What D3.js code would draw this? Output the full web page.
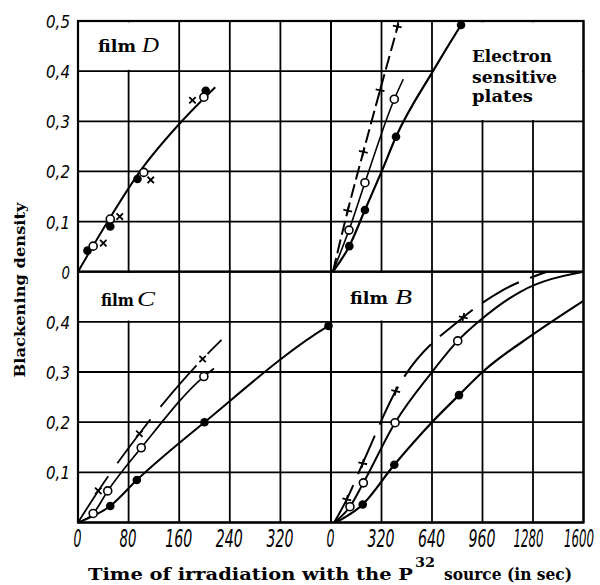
<!DOCTYPE html>
<html><head><meta charset="utf-8">
<script src="https://cdn.jsdelivr.net/npm/d3@7"></script>
<style>body{margin:0;background:#fff;}</style>
</head><body>
<svg id="c" width="600" height="585"></svg>
<script>
// ---------- data ----------
const xTicksLeft = [0, 80, 160, 240, 320];
const xTicksRight = [0, 320, 640, 960, 1280, 1600];
const yTicksTop = [0, 0.1, 0.2, 0.3, 0.4, 0.5];
const yTicksBottom = [0.1, 0.2, 0.3, 0.4];
const gridLeft = [0, 80, 160, 240, 320, 400];
const gridRight = [0, 320, 640, 960, 1280, 1600];
const gridY = [0, 0.1, 0.2, 0.3, 0.4, 0.5];

// film D (top left)
const filmD_filled = [[15, 0.042], [51, 0.090], [94, 0.185], [202, 0.361]];
const filmD_open = [[24, 0.051], [51, 0.105], [104, 0.198], [199, 0.348]];
const filmD_cross = [[40, 0.057], [66, 0.110], [115, 0.183], [181, 0.342]];
const filmD_line = [[0, 0], [47, 0.1], [98, 0.2], [164, 0.3], [217, 0.368]];

// electron sensitive plates (top right)
const esp_filled = [[116, 0.051], [215, 0.123], [412, 0.269], [824, 0.492]];
const esp_filledLine = [[12, 0], [116, 0.051], [215, 0.123], [321, 0.2], [412, 0.269], [648, 0.401], [824, 0.492], [840, 0.5]];
const esp_open = [[114, 0.083], [215, 0.1775], [401, 0.344]];
const esp_openLine = [[12, 0], [114, 0.083], [215, 0.1775], [401, 0.344], [458, 0.384]];
const esp_cross = [[106, 0.1217], [205, 0.239], [311, 0.362], [420, 0.489]];
const esp_crossLine = [[12, 0], [106, 0.1217], [205, 0.239], [311, 0.362], [427, 0.494]];

// film C (bottom left)
const filmC_filled = [[51, 0.033], [93, 0.0847], [200, 0.2], [396, 0.392]];
const filmC_filledLine = [[0, 0], [51, 0.033], [93, 0.0847], [200, 0.2], [396, 0.392], [400, 0.395]];
const filmC_open = [[24, 0.018], [47, 0.063], [100, 0.149], [199, 0.291]];
const filmC_openLine = [[0, 0], [24, 0.018], [47, 0.063], [100, 0.149], [199, 0.291], [215, 0.307]];
const filmC_cross = [[32, 0.063], [97, 0.177], [197, 0.326]];
const filmC_crossLine = [[0, 0], [32, 0.063], [97, 0.177], [197, 0.326], [227, 0.364]];

// film B (bottom right)
const filmB_filled = [[201, 0.036], [401, 0.115], [811, 0.254]];
const filmB_filledLine = [[30, 0], [201, 0.036], [401, 0.115], [640, 0.2], [811, 0.254], [960, 0.3], [1280, 0.375], [1600, 0.442]];
const filmB_open = [[120, 0.0315], [205, 0.079], [406, 0.199], [803, 0.362]];
const filmB_openLine = [[20, 0], [120, 0.0315], [205, 0.079], [406, 0.199], [640, 0.3], [803, 0.362], [945, 0.403], [1200, 0.46], [1600, 0.5]];
const filmB_cross = [[100, 0.046], [201, 0.118], [410, 0.262], [838, 0.409]];
const filmB_crossLine = [[20, 0], [100, 0.046], [201, 0.118], [410, 0.262], [838, 0.409], [1070, 0.46], [1370, 0.5]];

// ---------- layout ----------
const L = 78, R = 583.5, T = 21, M = 271.7, B = 522.5, XM = 331;
const xLeft = d3.scaleLinear().domain([0, 400]).range([L, XM]);
const xRight = d3.scaleLinear().domain([0, 1600]).range([XM, R]);
const yTop = d3.scaleLinear().domain([0, 0.5]).range([M, T]);
const yBot = d3.scaleLinear().domain([0, 0.5]).range([B, M]);

const svg = d3.select("#c");
const g = svg.append("g");

const panels = [
  { id: "D", x: xLeft, y: yTop, gx: gridLeft, box: [0, 160, 0.4, 0.5],
    series: [
      { line: filmD_line, dash: null, w: 2 },
    ],
    marks: [{ pts: filmD_filled, t: "f" }, { pts: filmD_open, t: "o" }, { pts: filmD_cross, t: "x" }] },
  { id: "E", x: xRight, y: yTop, gx: gridRight, box: [640, 1600, 0.3, 0.5],
    series: [
      { line: esp_filledLine, dash: null, w: 2.2 },
      { line: esp_openLine, dash: null, w: 1.6 },
      { line: esp_crossLine, dash: "14,5", w: 2 },
    ],
    marks: [{ pts: esp_filled, t: "f" }, { pts: esp_open, t: "o" }, { pts: esp_cross, t: "+" }] },
  { id: "C", x: xLeft, y: yBot, gx: gridLeft, box: [0, 160, 0.4, 0.5],
    series: [
      { line: filmC_filledLine, dash: null, w: 2 },
      { line: filmC_openLine, dash: null, w: 1.7 },
      { line: filmC_crossLine, dash: "55,16", w: 1.8 },
    ],
    marks: [{ pts: filmC_filled, t: "f" }, { pts: filmC_open, t: "o" }, { pts: filmC_cross, t: "x" }] },
  { id: "B", x: xRight, y: yBot, gx: gridRight, box: [0, 640, 0.4, 0.5],
    series: [
      { line: filmB_filledLine, dash: null, w: 2.2 },
      { line: filmB_openLine, dash: null, w: 2 },
      { line: filmB_crossLine, dash: "42,12", w: 2 },
    ],
    marks: [{ pts: filmB_filled, t: "f" }, { pts: filmB_open, t: "o" }, { pts: filmB_cross, t: "+" }] },
];

const defs = svg.append("defs");

panels.forEach(p => {
  const [x0, x1] = p.x.range(), [y0, y1] = p.y.range();
  g.append("g").selectAll("line.v").data(p.gx).join("line")
    .attr("x1", d => p.x(d)).attr("x2", d => p.x(d))
    .attr("y1", y0).attr("y2", y1)
    .attr("stroke", "#000").attr("stroke-width", 1.8);
  g.append("g").selectAll("line.h").data(gridY).join("line")
    .attr("x1", x0).attr("x2", x1)
    .attr("y1", d => p.y(d)).attr("y2", d => p.y(d))
    .attr("stroke", "#000").attr("stroke-width", 1.8);
  const [bx0, bx1, by0, by1] = p.box;
  g.append("rect")
    .attr("x", p.x(bx0) + 1.3).attr("width", p.x(bx1) - p.x(bx0) - 2.6)
    .attr("y", p.y(by1) + 1.3).attr("height", p.y(by0) - p.y(by1) - 2.6)
    .attr("fill", "#fff");
  defs.append("clipPath").attr("id", "clip" + p.id).append("rect")
    .attr("x", x0).attr("y", y1).attr("width", x1 - x0).attr("height", y0 - y1);
});

// frame
g.append("rect").attr("x", L).attr("y", T).attr("width", R - L).attr("height", B - T)
  .attr("fill", "none").attr("stroke", "#000").attr("stroke-width", 2.2);
g.append("line").attr("x1", XM).attr("x2", XM).attr("y1", T).attr("y2", B).attr("stroke", "#000").attr("stroke-width", 2);
g.append("line").attr("x1", L).attr("x2", R).attr("y1", M).attr("y2", M).attr("stroke", "#000").attr("stroke-width", 2);

// data
panels.forEach(p => {
  const line = d3.line().x(d => p.x(d[0])).y(d => p.y(d[1])).curve(d3.curveMonotoneX);
  const pg = g.append("g").attr("clip-path", "url(#clip" + p.id + ")");
  p.series.forEach(s => {
    pg.append("path").attr("d", line(s.line)).attr("fill", "none")
      .attr("stroke", "#000").attr("stroke-width", s.w)
      .attr("stroke-dasharray", s.dash);
  });
  const mg = g.append("g");
  p.marks.forEach(m => {
    if (m.t === "f") {
      mg.selectAll(null).data(m.pts).join("circle")
        .attr("cx", d => p.x(d[0])).attr("cy", d => p.y(d[1])).attr("r", 4.3).attr("fill", "#000");
    } else if (m.t === "o") {
      mg.selectAll(null).data(m.pts).join("circle")
        .attr("cx", d => p.x(d[0])).attr("cy", d => p.y(d[1])).attr("r", 4)
        .attr("fill", "#fff").attr("stroke", "#000").attr("stroke-width", 1.6);
    } else if (m.t === "x") {
      mg.selectAll(null).data(m.pts).join("path")
        .attr("transform", d => `translate(${p.x(d[0])},${p.y(d[1])})`)
        .attr("d", "M-3.2,-3.2L3.2,3.2M-3.2,3.2L3.2,-3.2")
        .attr("stroke", "#000").attr("stroke-width", 1.8).attr("fill", "none");
    } else {
      mg.selectAll(null).data(m.pts).join("path")
        .attr("transform", d => `translate(${p.x(d[0])},${p.y(d[1])}) rotate(12)`)
        .attr("d", "M-4.5,0L4.5,0M0,-4.5L0,4.5")
        .attr("stroke", "#000").attr("stroke-width", 1.8).attr("fill", "none");
    }
  });
});

// ---------- axes (tick labels) ----------
const tickFont = "'Liberation Sans Narrow','DejaVu Sans Condensed',sans-serif";
const fmtY = d => d === 0 ? "0" : d3.format(".1f")(d).replace(".", ",");
const xLen = s => ({ 1: 8, 2: 17, 3: 27, 4: 30 })[s.length];
const xShift = s => s.length === 4 ? -5 : -1;

// squeeze a text horizontally (scale about its anchor) to a target width
function squeeze(node, target, ax, ay) {
  const w = node.getComputedTextLength();
  const s = w > 0 ? target / w : 1;
  node.setAttribute("x", 0);
  node.setAttribute("y", 0);
  node.setAttribute("transform", `translate(${ax},${ay}) scale(${s},1)`);
}

function baseAxis(sel, size) {
  sel.select(".domain").remove();
  sel.selectAll(".tick line").remove();
  sel.selectAll("text").attr("font-family", tickFont).attr("font-style", "italic")
    .attr("font-size", size).attr("fill", "#000").attr("dy", 0);
}

[[xLeft, xTicksLeft], [xRight, xTicksRight]].forEach(([sc, tv]) => {
  const ax = g.append("g").attr("transform", `translate(0,${B})`)
    .call(d3.axisBottom(sc).tickValues(tv).tickSize(0).tickFormat(d3.format("d")));
  baseAxis(ax, 25);
  ax.selectAll("text").each(function () {
    const s = this.textContent;
    squeeze(this, xLen(s), xShift(s), 24.5);
  });
});

const yLen = s => s.length === 1 ? 8.5 : 24;
[[yTop, yTicksTop], [yBot, yTicksBottom]].forEach(([sc, tv]) => {
  const ay = g.append("g").attr("transform", `translate(70,0)`)
    .call(d3.axisLeft(sc).tickValues(tv).tickSize(0).tickPadding(0).tickFormat(fmtY));
  baseAxis(ay, 18);
  ay.selectAll("text").each(function () {
    squeeze(this, yLen(this.textContent), 0, 6.5);
  });
});

// ---------- text ----------
const boldSerif = "'DejaVu Serif',serif";
const itSerif = "'Liberation Serif',serif";
function txt(s, x, y, opt) {
  const t = g.append("text").attr("x", x).attr("y", y).text(s)
    .attr("font-family", opt.family || boldSerif)
    .attr("font-weight", opt.weight || "bold")
    .attr("font-style", opt.style || "normal")
    .attr("font-size", opt.size || 16).attr("fill", "#000");
  if (opt.len) t.attr("textLength", opt.len).attr("lengthAdjust", "spacingAndGlyphs");
  if (opt.transform) t.attr("transform", opt.transform);
  if (opt.anchor) t.attr("text-anchor", opt.anchor);
  return t;
}
txt("film", 98, 52, { size: 16, len: 38 });
txt("D", 142, 52, { family: itSerif, weight: "normal", style: "italic", size: 21, len: 17 });
txt("film", 101, 306, { size: 16, len: 33 });
txt("C", 137, 306, { family: itSerif, weight: "normal", style: "italic", size: 21, len: 18 });
txt("film", 350, 304, { size: 16, len: 38 });
txt("B", 395, 304, { family: itSerif, weight: "normal", style: "italic", size: 21, len: 17 });
txt("Electron", 472, 62, { size: 16, len: 80 });
txt("sensitive", 472, 83, { size: 16, len: 85 });
txt("plates", 472, 102, { size: 16, len: 61 });

txt("Blackening density", 0, 0, { size: 15, len: 175, anchor: "middle", transform: "translate(25,290) rotate(-90)" });
txt("Time of irradiation with the P", 88, 580, { size: 16, len: 325 });
txt("32", 415, 567, { size: 12, len: 20 });
txt("source (in sec)", 444, 580, { size: 16, len: 128 });
</script>
</body></html>
